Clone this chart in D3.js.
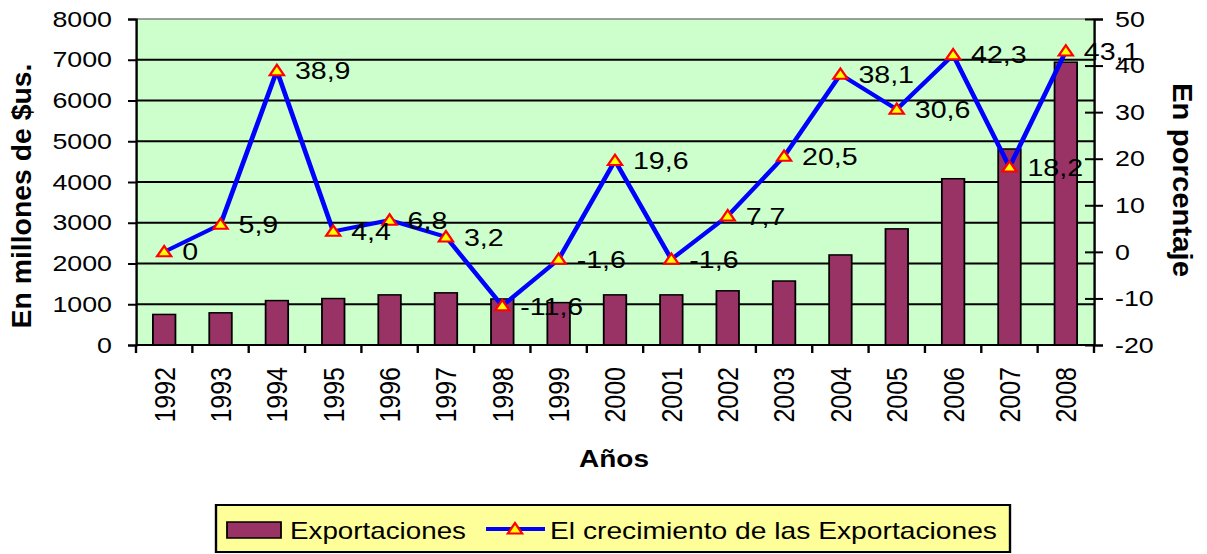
<!DOCTYPE html>
<html>
<head>
<meta charset="utf-8">
<script src="https://cdn.jsdelivr.net/npm/d3@7"></script>
<style>
  html, body { margin: 0; padding: 0; background: #fff; }
  svg { display: block; }
  text { font-family: "Liberation Sans", Arial, sans-serif; fill: #000; }
</style>
</head>
<body>
<div id="chart"></div>
<script>
const years = ["1992", "1993", "1994", "1995", "1996", "1997", "1998", "1999", "2000",
  "2001", "2002", "2003", "2004", "2005", "2006", "2007", "2008"];
const exportaciones = [750, 790, 1090, 1140, 1230, 1280, 1130, 1040, 1230,
  1230, 1330, 1570, 2210, 2850, 4080, 4810, 6940];
const crecimiento = [0, 5.9, 38.9, 4.4, 6.8, 3.2, -11.6, -1.6, 19.6,
  -1.6, 7.7, 20.5, 38.1, 30.6, 42.3, 18.2, 43.1];
const leftTicks = [0, 1000, 2000, 3000, 4000, 5000, 6000, 7000, 8000];
const rightTicks = [-20, -10, 0, 10, 20, 30, 40, 50];

// the picture is a bit wider than tall, so draw in a narrower box and stretch it
const S = 1.19;
const W = 1207, H = 554;
const VW = W / S;
const X = (px) => px / S;

const svg = d3.select("#chart")
  .append("svg")
  .attr("width", W)
  .attr("height", H)
  .attr("viewBox", `0 0 ${VW} ${H}`)
  .attr("preserveAspectRatio", "none");

const plot = { left: X(136), right: X(1094), top: 19, bottom: 345 };

const x = d3.scaleBand()
  .domain(years)
  .range([plot.left, plot.right])
  .paddingInner(0.6)
  .paddingOuter(0.3);
const yL = d3.scaleLinear().domain([0, 8000]).range([plot.bottom, plot.top]);
const yR = d3.scaleLinear().domain([-20, 50]).range([plot.bottom, plot.top]);
const plain = (d) => String(d);

// plot background
svg.append("rect")
  .attr("x", plot.left)
  .attr("y", plot.top)
  .attr("width", plot.right - plot.left)
  .attr("height", plot.bottom - plot.top)
  .attr("fill", "#CCFFCC");

// gridlines
svg.append("g")
  .selectAll("line")
  .data(leftTicks.filter((d) => d > 0 && d < 8000))
  .join("line")
  .attr("x1", plot.left)
  .attr("x2", plot.right)
  .attr("y1", (d) => yL(d))
  .attr("y2", (d) => yL(d))
  .attr("stroke", "#000")
  .attr("stroke-width", 2);

// top border
svg.append("line")
  .attr("x1", plot.left).attr("x2", plot.right)
  .attr("y1", plot.top).attr("y2", plot.top)
  .attr("stroke", "#808080").attr("stroke-width", 1.5);

// bars
svg.append("g")
  .selectAll("rect")
  .data(exportaciones)
  .join("rect")
  .attr("x", (d, i) => x(years[i]))
  .attr("y", (d) => yL(d))
  .attr("width", x.bandwidth())
  .attr("height", (d) => yL(0) - yL(d))
  .attr("fill", "#993366")
  .attr("stroke", "#000")
  .attr("stroke-width", 1.5);

// left axis
const axL = svg.append("g").attr("transform", `translate(${plot.left},0)`)
  .call(d3.axisLeft(yL).tickValues(leftTicks).tickFormat(plain)
    .tickSize(X(8)).tickPadding(X(16)));
axL.select(".domain").attr("stroke", "#000").attr("stroke-width", 2);
axL.selectAll(".tick line").attr("stroke", "#000").attr("stroke-width", 2);
axL.selectAll(".tick text").attr("font-size", 22.5)
  .style("font-family", "'Liberation Sans', Arial, sans-serif");

// right axis (ticks cross the line)
const axR = svg.append("g").attr("transform", `translate(${plot.right},0)`)
  .call(d3.axisRight(yR).tickValues(rightTicks).tickFormat(plain)
    .tickSize(X(9)).tickPadding(X(12)));
axR.select(".domain").attr("stroke", "#000").attr("stroke-width", 2);
axR.selectAll(".tick line").attr("x1", -X(9)).attr("stroke", "#000").attr("stroke-width", 2);
axR.selectAll(".tick text").attr("font-size", 22.5)
  .style("font-family", "'Liberation Sans', Arial, sans-serif");

// bottom axis: line, boundary ticks, rotated year labels
svg.append("line")
  .attr("x1", plot.left).attr("x2", plot.right)
  .attr("y1", plot.bottom).attr("y2", plot.bottom)
  .attr("stroke", "#000").attr("stroke-width", 2);
const step = x.step();
svg.append("g")
  .selectAll("line")
  .data(d3.range(years.length + 1))
  .join("line")
  .attr("x1", (i) => plot.left + i * step)
  .attr("x2", (i) => plot.left + i * step)
  .attr("y1", plot.bottom)
  .attr("y2", plot.bottom + 8)
  .attr("stroke", "#000")
  .attr("stroke-width", 2);
svg.append("g")
  .selectAll("text")
  .data(years)
  .join("text")
  .attr("transform", (d) => `translate(${x(d) + x.bandwidth() / 2},${plot.bottom + 22}) rotate(-90)`)
  .attr("text-anchor", "end")
  .attr("dy", "0.35em")
  .attr("font-size", 25)
  .text((d) => d);

// growth line
const lineGen = d3.line()
  .x((d, i) => x(years[i]) + x.bandwidth() / 2)
  .y((d) => yR(d));
svg.append("path")
  .datum(crecimiento)
  .attr("d", lineGen)
  .attr("fill", "none")
  .attr("stroke", "#0000FF")
  .attr("stroke-width", 4)
  .attr("stroke-linejoin", "miter");

const tri = d3.symbol().type(d3.symbolTriangle).size(62);
svg.append("g")
  .selectAll("path")
  .data(crecimiento)
  .join("path")
  .attr("transform", (d, i) => `translate(${x(years[i]) + x.bandwidth() / 2},${yR(d) + 1})`)
  .attr("d", tri)
  .attr("fill", "#FFFF00")
  .attr("stroke", "#FF0000")
  .attr("stroke-width", 2);

// data labels
svg.append("g")
  .selectAll("text")
  .data(crecimiento)
  .join("text")
  .attr("x", (d, i) => x(years[i]) + x.bandwidth() / 2 + X(18))
  .attr("y", (d) => yR(d))
  .attr("dy", "0.36em")
  .attr("font-size", 24)
  .text((d) => String(d).replace(".", ","));

// axis titles
svg.append("text")
  .attr("transform", `translate(${X(31)},${(plot.top + plot.bottom) / 2 + 14}) rotate(-90)`)
  .attr("text-anchor", "middle")
  .attr("font-size", 24)
  .attr("font-weight", "bold")
  .attr("textLength", 265)
  .attr("lengthAdjust", "spacingAndGlyphs")
  .text("En millones de $us.");

svg.append("text")
  .attr("transform", `translate(${X(1173)},${180}) rotate(90)`)
  .attr("text-anchor", "middle")
  .attr("font-size", 24)
  .attr("font-weight", "bold")
  .attr("textLength", 194)
  .attr("lengthAdjust", "spacingAndGlyphs")
  .text("En porcentaje");

svg.append("text")
  .attr("x", X(614))
  .attr("y", 467)
  .attr("text-anchor", "middle")
  .attr("font-size", 23.5)
  .attr("font-weight", "bold")
  .text("Años");

// legend
const lg = svg.append("g");
lg.append("rect")
  .attr("x", X(216)).attr("y", 505)
  .attr("width", X(1010 - 216)).attr("height", 47)
  .attr("fill", "#FFFF99")
  .attr("stroke", "#000")
  .attr("stroke-width", 2);
lg.append("rect")
  .attr("x", X(227)).attr("y", 522)
  .attr("width", X(54)).attr("height", 16)
  .attr("fill", "#993366")
  .attr("stroke", "#000")
  .attr("stroke-width", 1.5);
lg.append("text")
  .attr("x", X(290)).attr("y", 539)
  .attr("font-size", 23)
  .attr("textLength", X(176))
  .attr("lengthAdjust", "spacingAndGlyphs")
  .text("Exportaciones");
lg.append("line")
  .attr("x1", X(486)).attr("x2", X(545))
  .attr("y1", 529).attr("y2", 529)
  .attr("stroke", "#0000FF").attr("stroke-width", 4);
lg.append("path")
  .attr("transform", `translate(${X(515)},${530})`)
  .attr("d", tri)
  .attr("fill", "#FFFF00")
  .attr("stroke", "#FF0000")
  .attr("stroke-width", 2);
lg.append("text")
  .attr("x", X(550)).attr("y", 539)
  .attr("font-size", 23)
  .attr("textLength", X(447))
  .attr("lengthAdjust", "spacingAndGlyphs")
  .text("El crecimiento de las Exportaciones");
</script>
</body>
</html>
